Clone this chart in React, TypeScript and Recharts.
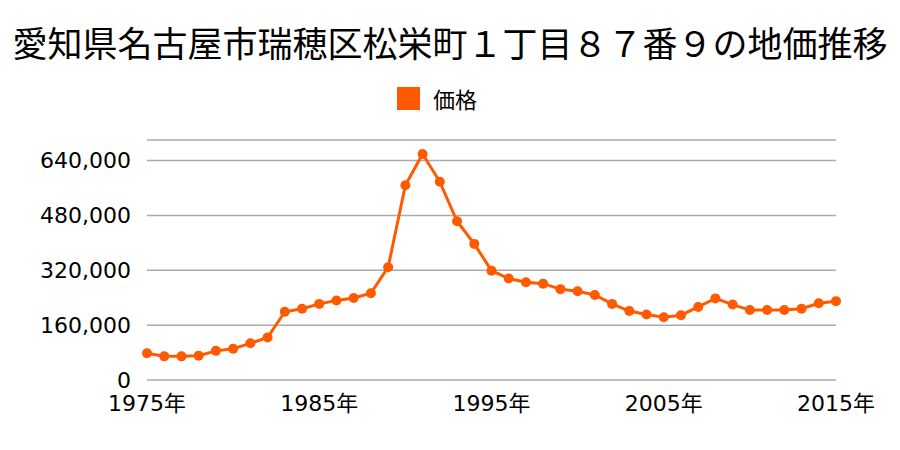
import React from 'react';
import { LineChart, Line, XAxis, YAxis, CartesianGrid } from 'recharts';

const years = [
  1975, 1976, 1977, 1978, 1979, 1980, 1981, 1982, 1983, 1984,
  1985, 1986, 1987, 1988, 1989, 1990, 1991, 1992, 1993, 1994,
  1995, 1996, 1997, 1998, 1999, 2000, 2001, 2002, 2003, 2004,
  2005, 2006, 2007, 2008, 2009, 2010, 2011, 2012, 2013, 2014, 2015,
];

const prices = [
  78000, 69000, 69000, 71000, 85000, 91000, 107000, 124000, 199000, 208000,
  222000, 232000, 239000, 253000, 329000, 568000, 659000, 578000, 463000, 397000,
  319000, 296000, 285000, 281000, 265000, 259000, 248000, 222000, 201000, 191000,
  183000, 189000, 213000, 238000, 220000, 204000, 204000, 204000, 208000, 224000, 230000,
];

const xTicks = [1975, 1985, 1995, 2005, 2015];
const yTicks = [0, 160000, 320000, 480000, 640000];

const data = years.map((year, i) => ({ year, price: prices[i] }));

const COLOR = '#FF5A00';
const FONT = '"Noto Sans CJK JP", "Noto Sans", sans-serif';
const NUM_FONT = '"DejaVu Sans", "Noto Sans CJK JP", sans-serif';

export default function App() {
  return (
    <div style={{ position: 'absolute', top: 0, left: 0, width: 900, height: 450, background: '#fff', fontFamily: FONT }}>
      <div style={{ position: 'absolute', top: 20, left: 0, width: 900, textAlign: 'center', fontSize: 35, lineHeight: '44px', color: '#000' }}>
        愛知県名古屋市瑞穂区松栄町１丁目８７番９の地価推移
      </div>
      <div style={{ position: 'absolute', top: 86, left: 397, display: 'flex', alignItems: 'center' }}>
        <span style={{ width: 23, height: 23, background: COLOR, display: 'inline-block', marginRight: 13 }} />
        <span style={{ fontSize: 22, lineHeight: '24px', color: '#000' }}>価格</span>
      </div>
      <LineChart width={900} height={450} data={data} margin={{ top: 140, right: 64, bottom: 40, left: 0 }}>
        <CartesianGrid vertical={false} stroke="#aaaaaa" strokeWidth={1.5} />
        <XAxis
          dataKey="year"
          type="number"
          domain={[1975, 2015]}
          ticks={xTicks}
          tickFormatter={(v) => `${v}年`}
          axisLine={false}
          tickLine={false}
          height={30}
          tickMargin={9}
          tick={{ fontSize: 22, fill: '#000', fontFamily: NUM_FONT }}
        />
        <YAxis
          domain={[0, 700000]}
          ticks={yTicks}
          tickFormatter={(v) => v.toLocaleString('en-US')}
          axisLine={false}
          tickLine={false}
          width={147}
          tickMargin={10}
          tick={{ fontSize: 22, fill: '#000', fontFamily: NUM_FONT }}
        />
        <Line
          type="linear"
          dataKey="price"
          name="価格"
          stroke={COLOR}
          strokeWidth={3}
          dot={{ r: 5, fill: COLOR, stroke: COLOR, strokeWidth: 0 }}
          isAnimationActive={false}
        />
      </LineChart>
    </div>
  );
}
